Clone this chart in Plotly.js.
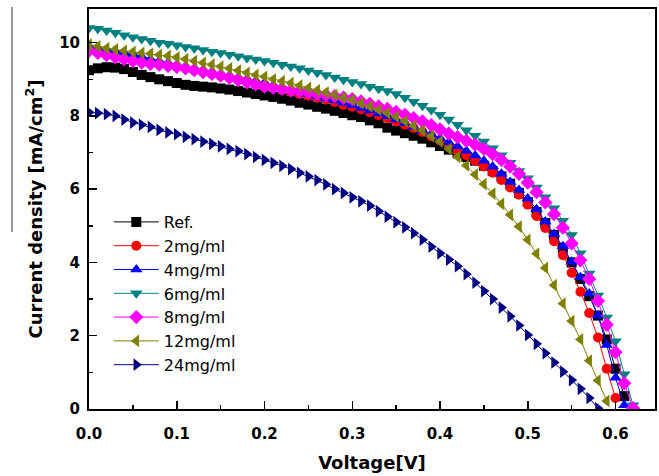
<!DOCTYPE html>
<html>
<head>
<meta charset="utf-8">
<script src="https://cdn.plot.ly/plotly-3.0.1.min.js"></script>
<style>html,body{margin:0;padding:0;background:#fff;}#chart{width:659px;height:476px;}</style>
</head>
<body>
<div id="chart"></div>
<script>
var voltage = [0.00,0.01,0.02,0.03,0.04,0.05,0.06,0.07,0.08,0.09,0.10,0.11,0.12,0.13,0.14,0.15,0.16,0.17,0.18,0.19,0.20,0.21,0.22,0.23,0.24,0.25,0.26,0.27,0.28,0.29,0.30,0.31,0.32,0.33,0.34,0.35,0.36,0.37,0.38,0.39,0.40,0.41,0.42,0.43,0.44,0.45,0.46,0.47,0.48,0.49,0.50,0.51,0.52,0.53,0.54,0.55,0.56,0.57,0.58,0.59,0.60,0.61,0.62];

var seriesNames = ["Ref.", "2mg/ml", "4mg/ml", "6mg/ml", "8mg/ml", "12mg/ml", "24mg/ml"];

var ref = [9.25,9.30,9.33,9.32,9.28,9.20,9.12,9.06,9.00,8.95,8.90,8.85,8.82,8.80,8.78,8.75,8.72,8.68,8.64,8.60,8.56,8.52,8.47,8.42,8.36,8.31,8.25,8.20,8.14,8.08,8.02,7.97,7.88,7.80,7.68,7.60,7.53,7.46,7.38,7.28,7.18,7.08,6.98,6.88,6.78,6.64,6.50,6.35,6.15,5.90,5.65,5.38,5.08,4.75,4.40,4.00,3.55,3.08,2.55,1.90,1.10,0.35];

var mg2 = [9.82,9.78,9.74,9.70,9.66,9.62,9.55,9.48,9.42,9.38,9.34,9.30,9.25,9.20,9.15,9.10,9.05,9.00,8.95,8.90,8.85,8.78,8.72,8.66,8.60,8.55,8.50,8.45,8.38,8.30,8.25,8.18,8.10,8.02,7.94,7.85,7.76,7.67,7.56,7.45,7.33,7.20,7.07,6.93,6.78,6.62,6.45,6.25,6.05,5.85,5.58,5.27,4.94,4.58,4.20,3.72,3.20,2.62,1.95,1.10,0.30];

var mg4 = [9.90,9.85,9.80,9.76,9.72,9.68,9.62,9.55,9.50,9.45,9.40,9.35,9.30,9.25,9.20,9.15,9.10,9.05,9.00,8.95,8.90,8.84,8.78,8.72,8.66,8.60,8.54,8.48,8.42,8.36,8.30,8.22,8.15,8.07,7.99,7.90,7.80,7.70,7.60,7.50,7.40,7.28,7.17,7.05,6.92,6.78,6.62,6.42,6.20,5.98,5.75,5.45,5.12,4.78,4.44,4.02,3.60,3.15,2.55,1.75,0.85,0.10];

var mg6 = [10.40,10.38,10.33,10.27,10.20,10.15,10.10,10.05,10.00,9.97,9.93,9.88,9.85,9.80,9.75,9.72,9.67,9.63,9.58,9.54,9.50,9.45,9.40,9.35,9.30,9.24,9.18,9.12,9.05,8.99,8.93,8.87,8.80,8.74,8.68,8.60,8.50,8.39,8.28,8.16,8.03,7.90,7.76,7.61,7.46,7.30,7.12,6.93,6.72,6.50,6.30,6.05,5.78,5.48,5.14,4.75,4.25,3.70,3.10,2.50,1.85,0.95,0.10];

var mg8 = [9.78,9.72,9.66,9.60,9.55,9.50,9.46,9.42,9.40,9.37,9.34,9.30,9.25,9.20,9.15,9.10,9.04,8.98,8.92,8.86,8.80,8.77,8.74,8.70,8.67,8.64,8.60,8.57,8.54,8.50,8.46,8.40,8.33,8.26,8.19,8.11,8.03,7.94,7.85,7.75,7.63,7.52,7.42,7.32,7.22,7.10,6.96,6.80,6.62,6.42,6.18,5.92,5.64,5.32,4.95,4.52,4.06,3.55,2.95,2.30,1.55,0.70,0.02];

var mg12 = [9.95,9.90,9.85,9.82,9.78,9.75,9.72,9.70,9.67,9.64,9.60,9.55,9.50,9.45,9.40,9.35,9.30,9.24,9.18,9.12,9.07,9.00,8.95,8.90,8.83,8.77,8.70,8.64,8.57,8.50,8.44,8.35,8.26,8.17,8.08,7.98,7.86,7.73,7.60,7.45,7.30,7.10,6.88,6.65,6.40,6.14,5.88,5.60,5.30,4.98,4.62,4.24,3.85,3.38,2.88,2.40,1.90,1.32,0.78,0.22];

var mg24 = [8.10,8.08,8.05,8.00,7.90,7.82,7.76,7.70,7.62,7.55,7.50,7.43,7.37,7.30,7.24,7.17,7.10,7.04,6.96,6.88,6.80,6.72,6.64,6.55,6.45,6.35,6.25,6.13,6.00,5.90,5.78,5.67,5.55,5.40,5.25,5.10,4.96,4.80,4.62,4.43,4.25,4.08,3.90,3.68,3.45,3.22,3.00,2.77,2.53,2.28,2.02,1.78,1.52,1.27,1.02,0.79,0.55,0.30,0.02];

var xTickVals = [0.0, 0.1, 0.2, 0.3, 0.4, 0.5, 0.6];
var yTickVals = [0, 2, 4, 6, 8, 10];

var seriesValues = [ref, mg2, mg4, mg6, mg8, mg12, mg24];
var colors = ["#000000", "#ff0000", "#0000ff", "#008080", "#ff00ff", "#808000", "#000080"];
var symbols = ["square", "circle", "triangle-up", "triangle-down", "diamond", "triangle-left", "triangle-right"];
var sizes = [10, 10, 11, 11, 11, 11, 11];

var traces = seriesValues.map(function (vals, i) {
  return {
    x: voltage.slice(0, vals.length),
    y: vals,
    name: seriesNames[i],
    type: "scatter",
    mode: "lines+markers",
    line: {color: colors[i], width: 1},
    marker: {symbol: symbols[i], size: sizes[i], color: colors[i], line: {width: 0}}
  };
});

var tickFont = {family: "DejaVu Sans", size: 15, color: "#000", weight: "bold"};
var titleFont = {family: "DejaVu Sans", size: 18, color: "#000", weight: "bold"};

var layout = {
  width: 659,
  height: 476,
  margin: {l: 89, r: 4, t: 9, b: 67},
  paper_bgcolor: "#ffffff",
  plot_bgcolor: "#ffffff",
  showlegend: true,
  legend: {
    x: 0.035, y: 0.51, xanchor: "left", yanchor: "top",
    bgcolor: "rgba(0,0,0,0)", borderwidth: 0,
    itemwidth: 45,
    font: {family: "DejaVu Sans", size: 16, color: "#000"}
  },
  xaxis: {
    range: [0, 0.645],
    tickvals: xTickVals,
    tickformat: ".1f",
    ticks: "inside", ticklen: 8, tickwidth: 1.5, tickcolor: "#000",
    minor: {ticks: "inside", ticklen: 4, tickwidth: 1.5, dtick: 0.05, tick0: 0, tickcolor: "#000"},
    showline: true, linecolor: "#000", linewidth: 2, mirror: true,
    showgrid: false, zeroline: false,
    tickfont: tickFont,
    ticklabelstandoff: 10,
    title: {text: "Voltage[V]", font: titleFont, standoff: 14}
  },
  yaxis: {
    range: [0, 10.92],
    tickvals: yTickVals,
    ticks: "inside", ticklen: 8, tickwidth: 1.5, tickcolor: "#000",
    minor: {ticks: "inside", ticklen: 4, tickwidth: 1.5, dtick: 1, tick0: 0, tickcolor: "#000"},
    showline: true, linecolor: "#000", linewidth: 2, mirror: true,
    showgrid: false, zeroline: false,
    tickfont: tickFont,
    ticklabelstandoff: 4,
    title: {text: "Current density [mA/cm<sup>2</sup>]", font: titleFont, standoff: 12}
  },
  shapes: [{
    type: "line", xref: "paper", yref: "paper",
    x0: -0.136, x1: -0.136, y0: 1.005, y1: 0.4425,
    line: {color: "#333", width: 1}
  }]
};

Plotly.newPlot("chart", traces, layout, {displayModeBar: false, staticPlot: true});
</script>
</body>
</html>
